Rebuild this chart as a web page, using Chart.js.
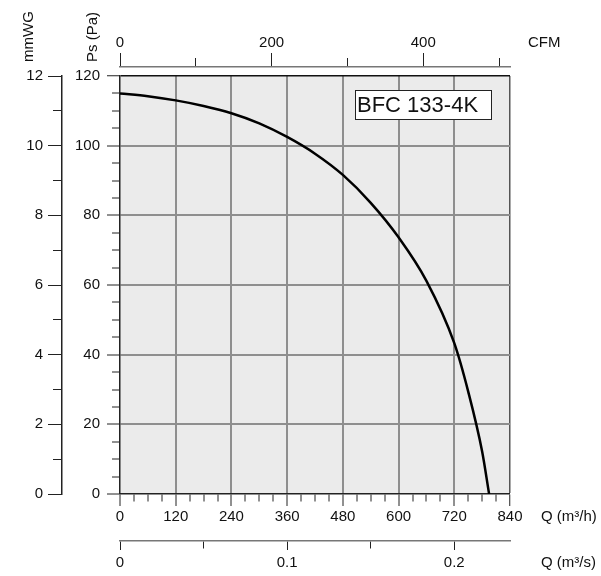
<!DOCTYPE html>
<html>
<head>
<meta charset="utf-8">
<script src="https://cdn.jsdelivr.net/npm/chart.js@4.4.1/dist/chart.umd.min.js"></script>
<style>
html, body { margin: 0; padding: 0; background: #fff; }
#wrap { width: 601px; height: 576px; }
</style>
</head>
<body>
<div id="wrap"><canvas id="fanChart" width="601" height="576"></canvas></div>
<script>
// fan curve BFC 133-4K
var flowM3h = [0, 60, 120, 180, 240, 300, 360, 420, 480, 540, 600, 660, 720, 750, 780, 795];
var pressurePa = [115, 114.2, 113.0, 111.4, 109.3, 106.4, 102.5, 97.7, 91.6, 83.6, 73.7, 61.2, 43.3, 29.4, 12.2, 0];

// labelled ticks
var flowLabels = [0, 120, 240, 360, 480, 600, 720, 840];
var psLabels = [0, 20, 40, 60, 80, 100, 120];
var mmwgLabels = [0, 2, 4, 6, 8, 10, 12];
var cfmLabels = [0, 200, 400];
var m3sLabels = [0, 0.1, 0.2];

// all tick positions (labelled + minor)
var flowTicks = [0, 30, 60, 90, 120, 150, 180, 210, 240, 270, 300, 330, 360, 390, 420, 450, 480, 510, 540, 570, 600, 630, 660, 690, 720, 750, 780, 810, 840];
var psTicks = [0, 5, 10, 15, 20, 25, 30, 35, 40, 45, 50, 55, 60, 65, 70, 75, 80, 85, 90, 95, 100, 105, 110, 115, 120];
var mmwgTicks = [0, 1, 2, 3, 4, 5, 6, 7, 8, 9, 10, 11, 12];
var cfmTicks = [0, 100, 200, 300, 400, 500];
var m3sTicks = [0, 0.05, 0.1, 0.15, 0.2];

var FONT = 'Liberation Sans, Arial, Helvetica, sans-serif';
Chart.defaults.font.family = FONT;
Chart.defaults.font.size = 15;
Chart.defaults.color = '#111';

function isIn(list, v) {
    return list.some(function(l) { return Math.abs(l - v) < 1e-9; });
}

function setTicks(list) {
    return function(scale) {
        scale.ticks = list.map(function(v) { return { value: v }; });
    };
}

function labelFrom(list) {
    return function(v) {
        return isIn(list, v) ? String(v) : '';
    };
}

// minor tick marks are drawn shorter with a dash pattern
function minorDash(list, majorLen, minorLen, outerFirst) {
    return function(ctx) {
        if (!ctx.tick || isIn(list, ctx.tick.value)) return [];
        return outerFirst ? [0, majorLen - minorLen, minorLen, 60] : [minorLen, 60];
    };
}

var backgroundPlugin = {
    id: 'plotBackground',
    beforeDraw: function(chart) {
        var a = chart.chartArea;
        var ctx = chart.ctx;
        ctx.save();
        ctx.fillStyle = '#ebebeb';
        ctx.fillRect(a.left, a.top, a.right - a.left, a.bottom - a.top);
        ctx.restore();
    },
    afterDraw: function(chart) {
        var a = chart.chartArea;
        var ctx = chart.ctx;
        ctx.save();
        ctx.fillStyle = '#111';
        ctx.font = '15px ' + FONT;
        ctx.textBaseline = 'middle';
        ctx.textAlign = 'left';
        ctx.fillText('CFM', a.right + 18, 43);
        ctx.fillText('Q (m³/h)', a.right + 31, 517);
        ctx.fillText('Q (m³/s)', a.right + 31, 563);

        ctx.textBaseline = 'alphabetic';
        ctx.save();
        ctx.translate(33, 62);
        ctx.rotate(-Math.PI / 2);
        ctx.fillText('mmWG', 0, 0);
        ctx.restore();
        ctx.save();
        ctx.translate(96.5, 62);
        ctx.rotate(-Math.PI / 2);
        ctx.fillText('Ps (Pa)', 0, 0);
        ctx.restore();

        // model label box
        var bx = a.right - 155, by = a.top + 14, bw = 136, bh = 29;
        ctx.fillStyle = '#fff';
        ctx.fillRect(bx, by, bw, bh);
        ctx.strokeStyle = '#222';
        ctx.lineWidth = 1;
        ctx.strokeRect(bx + 0.5, by + 0.5, bw, bh);
        ctx.fillStyle = '#111';
        ctx.font = '22px ' + FONT;
        ctx.textBaseline = 'middle';
        ctx.fillText('BFC 133-4K', bx + 2, by + bh / 2 + 1);
        ctx.restore();
    }
};

var points = flowM3h.map(function(q, i) {
    return { x: q, y: pressurePa[i] };
});

var ctx = document.getElementById('fanChart').getContext('2d');
new Chart(ctx, {
    type: 'scatter',
    data: {
        datasets: [{
            label: 'BFC 133-4K',
            data: points,
            xAxisID: 'x',
            yAxisID: 'y',
            showLine: true,
            borderColor: '#000',
            borderWidth: 2.5,
            pointRadius: 0,
            cubicInterpolationMode: 'monotone'
        }]
    },
    options: {
        responsive: false,
        animation: false,
        layout: { padding: { left: 0, right: 91, top: 0, bottom: 0 } },
        plugins: {
            legend: { display: false },
            tooltip: { enabled: false }
        },
        scales: {
            x: {
                type: 'linear',
                position: 'bottom',
                weight: 0,
                min: 0,
                max: 840,
                afterBuildTicks: setTicks(flowTicks),
                afterFit: function(s) { s.height = 47; },
                ticks: {
                    autoSkip: false, maxRotation: 0, minRotation: 0, padding: 2,
                    callback: labelFrom(flowLabels)
                },
                grid: {
                    tickLength: 12,
                    tickColor: '#222',
                    tickWidth: 1,
                    tickBorderDash: minorDash(flowLabels, 12, 7, false),
                    lineWidth: function(c) {
                        var v = c.tick ? c.tick.value : 0;
                        if (v === 0 || !isIn(flowLabels, v)) return 0;
                        return v === 840 ? 1.5 : 2;
                    },
                    color: function(c) {
                        return c.tick && c.tick.value === 840 ? '#555' : '#8e8e8e';
                    }
                },
                border: { display: true, color: '#222', width: 1.5 }
            },
            xs: {
                type: 'linear',
                axis: 'x',
                position: 'bottom',
                weight: 1,
                min: 0,
                max: 840 / 3600,
                afterBuildTicks: setTicks(m3sTicks),
                afterFit: function(s) { s.height = 35; },
                ticks: {
                    autoSkip: false, maxRotation: 0, minRotation: 0, padding: 4,
                    callback: labelFrom(m3sLabels)
                },
                grid: {
                    drawOnChartArea: false,
                    tickLength: 9,
                    tickColor: '#222',
                    tickWidth: 1,
                    tickBorderDash: minorDash(m3sLabels, 9, 7, false)
                },
                border: { display: true, color: '#777', width: 1.5 }
            },
            cfm: {
                type: 'linear',
                axis: 'x',
                position: 'top',
                weight: 1,
                min: 0,
                max: 514.5,
                afterBuildTicks: setTicks(cfmTicks),
                afterFit: function(s) { s.height = 67; },
                ticks: {
                    autoSkip: false, maxRotation: 0, minRotation: 0, padding: 1,
                    callback: labelFrom(cfmLabels)
                },
                grid: {
                    drawOnChartArea: false,
                    tickLength: 14,
                    tickColor: '#222',
                    tickWidth: 1,
                    tickBorderDash: minorDash(cfmLabels, 14, 9, true)
                },
                border: { display: true, color: '#777', width: 1.5 }
            },
            gapTop: {
                type: 'linear',
                axis: 'x',
                position: 'top',
                weight: 0,
                afterFit: function(s) { s.height = 9; },
                ticks: { display: false },
                grid: { display: false },
                border: { display: false }
            },
            y: {
                type: 'linear',
                position: 'left',
                weight: 0,
                min: 0,
                max: 120,
                afterBuildTicks: setTicks(psTicks),
                afterFit: function(s) { s.width = 58; },
                ticks: {
                    autoSkip: false, padding: 7,
                    callback: labelFrom(psLabels)
                },
                grid: {
                    tickLength: 13,
                    tickColor: '#222',
                    tickWidth: 1,
                    tickBorderDash: minorDash(psLabels, 13, 8, true),
                    lineWidth: function(c) {
                        var v = c.tick ? c.tick.value : 0;
                        if (v === 0 || !isIn(psLabels, v)) return 0;
                        return v === 120 ? 1.5 : 2;
                    },
                    color: function(c) {
                        return c.tick && c.tick.value === 120 ? '#111' : '#8e8e8e';
                    }
                },
                border: { display: true, color: '#222', width: 1.5 }
            },
            mmwg: {
                type: 'linear',
                axis: 'y',
                position: 'left',
                weight: 1,
                min: 0,
                max: 12,
                afterBuildTicks: setTicks(mmwgTicks),
                afterFit: function(s) { s.width = 62; },
                ticks: {
                    autoSkip: false, padding: 5,
                    callback: labelFrom(mmwgLabels)
                },
                grid: {
                    drawOnChartArea: false,
                    tickLength: 14,
                    tickColor: '#222',
                    tickWidth: 1,
                    tickBorderDash: minorDash(mmwgLabels, 14, 9, true)
                },
                border: { display: true, color: '#222', width: 1.5 }
            }
        }
    },
    plugins: [backgroundPlugin]
});
</script>
</body>
</html>
